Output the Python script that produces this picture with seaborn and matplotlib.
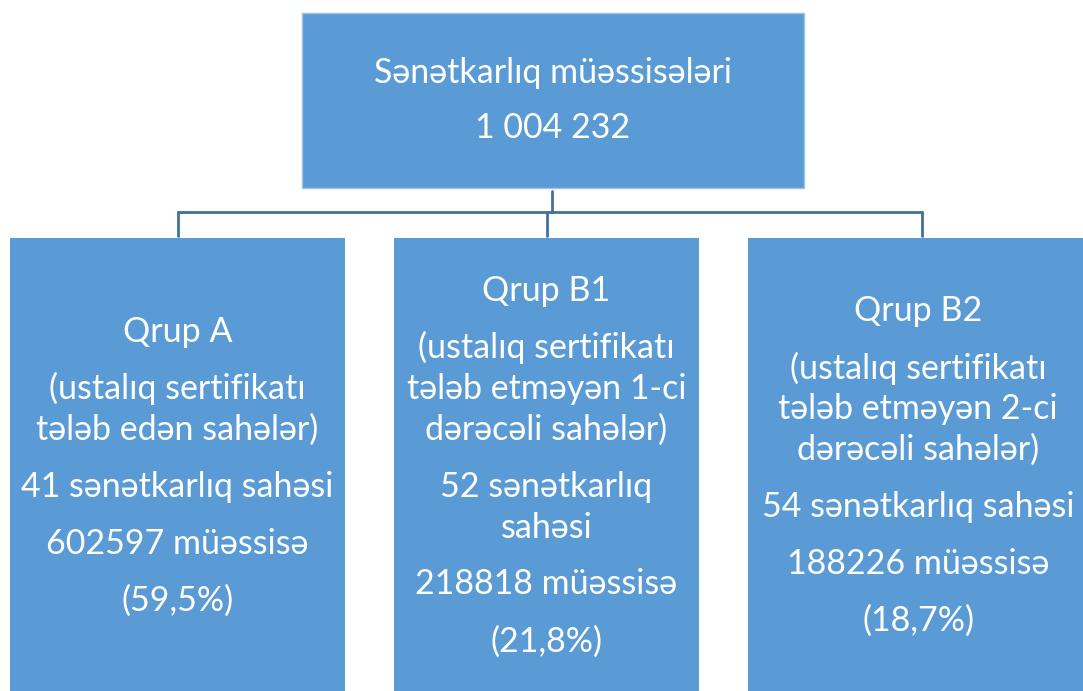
import matplotlib.pyplot as plt
import seaborn as sns
from matplotlib.patches import Rectangle

# Chart content
top_title = "Sənətkarlıq müəssisələri"
top_total = "1 004 232"

group_names = ["Qrup A", "Qrup B1", "Qrup B2"]
group_desc = [
    ["(ustalıq sertifikatı", "tələb edən sahələr)"],
    ["(ustalıq sertifikatı", "tələb etməyən 1-ci", "dərəcəli sahələr)"],
    ["(ustalıq sertifikatı", "tələb etməyən 2-ci", "dərəcəli sahələr)"],
]
group_fields = [
    ["41 sənətkarlıq sahəsi"],
    ["52 sənətkarlıq", "sahəsi"],
    ["54 sənətkarlıq sahəsi"],
]
group_counts = ["602597 müəssisə", "218818 müəssisə", "188226 müəssisə"]
group_shares = ["(59,5%)", "(21,8%)", "(18,7%)"]

sns.set_theme(style="white")
plt.rcParams['font.family'] = ['Lato', 'DejaVu Sans']

fill = "#5B9BD5"
line_col = "#41719C"
fs = 24.5
line_step = 41
para_step = 57

fig = plt.figure(figsize=(10.83, 6.91), dpi=100)
ax = fig.add_axes([0, 0, 1, 1])
ax.set_xlim(0, 1083)
ax.set_ylim(691, 0)
ax.axis("off")

# top box
top = (302, 13, 502, 175)
ax.add_patch(Rectangle((top[0], top[1]), top[2], top[3], facecolor=fill,
                       edgecolor="#9DC3E6", lw=1))
cx_top = top[0] + top[2] / 2
ax.text(cx_top, 73, top_title, color="white", fontsize=fs, ha="center", va="center")
ax.text(cx_top, 128, top_total, color="white", fontsize=fs, ha="center", va="center")

# bottom boxes
boxes = [(10, 238, 335, 460), (394, 238, 305, 460), (748, 238, 340, 460)]
centers = [178, 547, 922]

# connectors
ax.plot([552, 552], [191, 212], color=line_col, lw=2)
ax.plot([centers[0], centers[-1]], [212, 212], color=line_col, lw=2)
for c in centers:
    ax.plot([c, c], [212, 236], color=line_col, lw=2)

for i, (x, y, w, h) in enumerate(boxes):
    ax.add_patch(Rectangle((x, y), w, h, facecolor=fill, edgecolor="none"))
    paras = [[group_names[i]], group_desc[i], group_fields[i],
             [group_counts[i]], [group_shares[i]]]
    # total height of the text block
    n_lines = sum(len(p) for p in paras)
    total = (n_lines - len(paras)) * line_step + (len(paras) - 1) * para_step
    cy = 466
    ypos = cy - total / 2
    xc = x + w / 2
    for j, p in enumerate(paras):
        for k, line in enumerate(p):
            ax.text(xc, ypos, line, color="white", fontsize=fs,
                    ha="center", va="center")
            if k < len(p) - 1:
                ypos += line_step
        ypos += para_step

fig.savefig("out.png", dpi=100)
